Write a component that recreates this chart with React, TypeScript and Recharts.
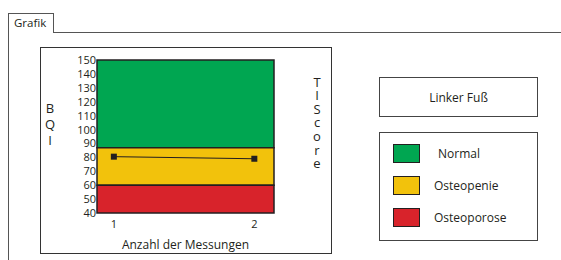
import {
    ComposedChart,
    Legend,
    Line,
    ReferenceArea,
    XAxis,
    YAxis,
} from "recharts";

// measurements (BQI) per Messung
const messungen = [1, 2];
const bqiWerte = [80.5, 79];

// left axis ticks
const bqiTicks = [40, 50, 60, 70, 80, 90, 100, 110, 120, 130, 140, 150];

// classification bands
const bandNamen = ["Normal", "Osteopenie", "Osteoporose"];
const bandVon = [87, 60, 40];
const bandBis = [150, 87, 60];
const bandFarben = ["#00a651", "#f2c20c", "#d8232b"];

// T-score ticks on the right
const tScoreWerte = [87, 60];
const tScoreLabels = ["-1,0", "-2,5"];

const font = "'Open Sans', sans-serif";
const ink = "#231f20";

const data = messungen.map((m, i) => ({ messung: m, bqi: bqiWerte[i] }));

function LeftTick({ x, y, payload }: any) {
    return (
        <text x={x} y={y} dy={4} textAnchor="end" fontSize={11} fontFamily={font} fill={ink}>
            {payload.value}
        </text>
    );
}

function RightTick({ x, y, payload }: any) {
    const idx = tScoreWerte.indexOf(payload.value);
    return (
        <text x={x} y={y} dy={6.5} textAnchor="start" fontSize={11} fontFamily={font} fill={ink}>
            {tScoreLabels[idx]}
        </text>
    );
}

function BottomTick({ x, y, payload }: any) {
    return (
        <text x={x} y={y} dy={15} textAnchor="middle" fontSize={11} fontFamily={font} fill={ink}>
            {payload.value}
        </text>
    );
}

function SquareDot({ cx, cy }: any) {
    return <rect x={cx - 3} y={cy - 3} width={6} height={6} fill={ink} />;
}

function VerticalLetters({ word, x, y0, step }: { word: string; x: number; y0: number; step: number }) {
    return (
        <g>
            {word.split("").map((ch, i) => (
                <text key={i} x={x} y={y0 + i * step} textAnchor="middle" fontSize={13} fontFamily={font} fill={ink}>
                    {ch}
                </text>
            ))}
        </g>
    );
}

function LegendBox() {
    return (
        <div style={{ width: 159, height: 109, boxSizing: "border-box", border: `1.5px solid #444`, position: "relative" }}>
            {bandNamen.map((name, i) => (
                <div key={name} style={{ position: "absolute", left: 13, top: 11 + i * 32, display: "flex", alignItems: "center" }}>
                    <div style={{ width: 27, height: 19, boxSizing: "border-box", background: bandFarben[i], border: `1.5px solid ${ink}` }} />
                    <span style={{ marginLeft: i === 0 ? 18 : 14, fontSize: 12, fontFamily: font, color: ink }}>{name}</span>
                </div>
            ))}
        </div>
    );
}

export default function App() {
    const line = "1.5px solid #555";
    return (
        <div style={{ position: "absolute", left: 0, top: 0, width: 561, height: 260, background: "#fff", overflow: "hidden" }}>
            {/* tab + frame */}
            <div style={{ position: "absolute", left: 8, top: 13, width: 46, height: 20, borderLeft: line, borderTop: line, borderRight: line, boxSizing: "border-box" }} />
            <div style={{ position: "absolute", left: 14, top: 15, fontSize: 11.5, fontFamily: font, color: ink }}>Grafik</div>
            <div style={{ position: "absolute", left: 53, top: 32, width: 520, borderTop: line }} />
            <div style={{ position: "absolute", left: 8, top: 32, height: 240, borderLeft: line }} />
            {/* chart box */}
            <div style={{ position: "absolute", left: 40, top: 47, width: 292, height: 207, border: "1.5px solid #333", boxSizing: "border-box" }} />
            {/* label box */}
            <div style={{ position: "absolute", left: 379, top: 77, width: 159, height: 40, border: "1.5px solid #444", boxSizing: "border-box", display: "flex", alignItems: "center", justifyContent: "center", fontSize: 12, fontFamily: font, color: ink }}>
                Linker Fuß
            </div>

            <div style={{ position: "absolute", left: 0, top: 0 }}>
                <ComposedChart width={561} height={260} data={data} margin={{ top: 60, left: 57, right: 257, bottom: 7 }}>
                    {bandNamen.map((name, i) => (
                        <ReferenceArea
                            key={name}
                            yAxisId="left"
                            y1={bandVon[i]}
                            y2={bandBis[i]}
                            fill={bandFarben[i]}
                            fillOpacity={1}
                            stroke={ink}
                            strokeWidth={1.5}
                        />
                    ))}
                    <XAxis
                        dataKey="messung"
                        type="number"
                        domain={[0.88, 2.14]}
                        ticks={messungen}
                        height={40}
                        axisLine={false}
                        tickLine={false}
                        tickSize={0}
                        tickMargin={0}
                        tick={<BottomTick />}
                        label={{
                            content: () => (
                                <text x={185.5} y={249} textAnchor="middle" fontSize={12} fontFamily={font} fill={ink}>
                                    Anzahl der Messungen
                                </text>
                            ),
                        }}
                    />
                    <YAxis
                        yAxisId="left"
                        domain={[40, 150]}
                        ticks={bqiTicks}
                        interval={0}
                        width={40}
                        axisLine={false}
                        tickLine={false}
                        tickSize={0}
                        tickMargin={1}
                        tick={<LeftTick />}
                        label={{ content: () => <VerticalLetters word="BQI" x={50} y0={113} step={16} /> }}
                    />
                    <YAxis
                        yAxisId="right"
                        orientation="right"
                        domain={[40, 150]}
                        ticks={tScoreWerte}
                        interval={0}
                        width={30}
                        axisLine={false}
                        tickLine={false}
                        tickSize={0}
                        tickMargin={3}
                        tick={<RightTick />}
                        label={{ content: () => <VerticalLetters word="TIScore" x={317} y0={86.5} step={13.6} /> }}
                    />
                    <Line
                        yAxisId="left"
                        dataKey="bqi"
                        stroke={ink}
                        strokeWidth={1}
                        dot={<SquareDot />}
                        activeDot={false}
                        isAnimationActive={false}
                    />
                    <Legend
                        layout="vertical"
                        align="center"
                        verticalAlign="middle"
                        content={() => <LegendBox />}
                        wrapperStyle={{ position: "absolute", left: 379, top: 132, width: 159, height: 109 }}
                    />
                </ComposedChart>
            </div>
        </div>
    );
}
